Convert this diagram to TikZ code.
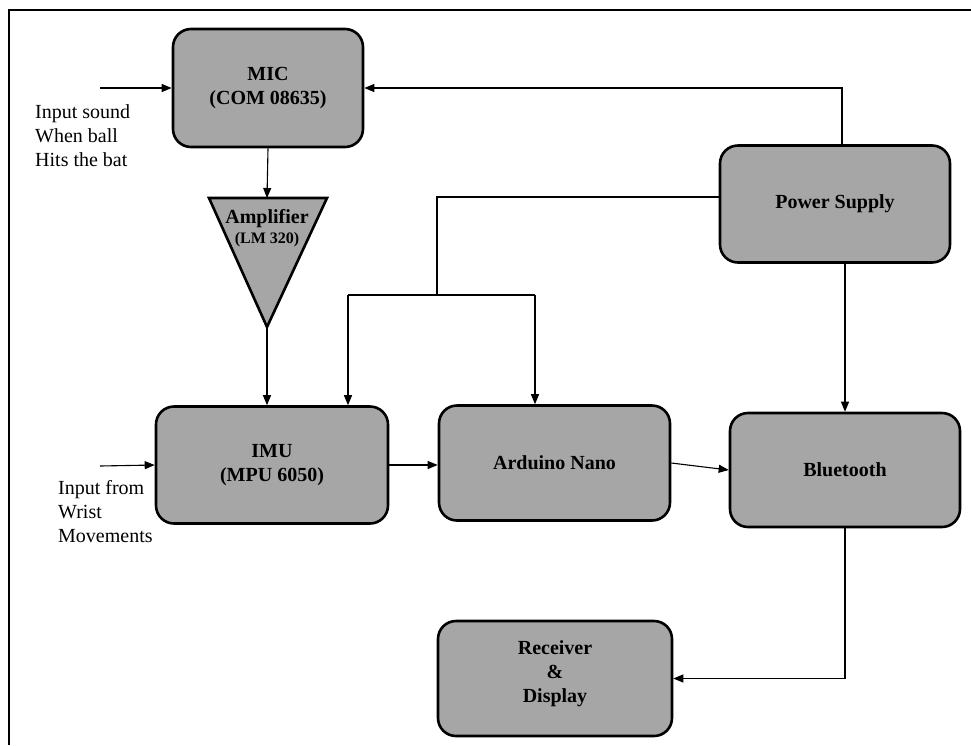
\documentclass[tikz,border=0pt]{standalone}
\usepackage{fontspec}
\setmainfont{Liberation Serif}
\usetikzlibrary{arrows.meta}
\definecolor{boxgray}{HTML}{A6A6A6}
\tikzset{
  blk/.style={draw=black, fill=boxgray, line width=2.6pt, rounded corners=18pt,
    align=center, font=\bfseries\fontsize{20}{24}\selectfont, inner sep=0pt},
  conn/.style={draw=black, line width=1.1pt},
  arr/.style={conn, -{Triangle[length=10pt,width=8pt]}},
  note/.style={align=left, font=\fontsize{20}{24}\selectfont, inner sep=0pt},
}
\begin{document}
\begin{tikzpicture}[x=1pt,y=-1pt]
\useasboundingbox (0,0) rectangle (971,745);
% frame
\draw[line width=2.5pt] (9,745) -- (9,10) -- (971,10);

% blocks
\node[blk, minimum width=190pt, minimum height=118pt] (mic) at (268,88) {MIC\\(COM 08635)};
\node[blk, minimum width=230pt, minimum height=117pt] (ps) at (835,204) {Power Supply};
\node[blk, minimum width=232pt, minimum height=117pt] (imu) at (272,465) {IMU\\(MPU 6050)};
\node[blk, minimum width=231pt, minimum height=115pt] (ard) at (554.5,463) {Arduino Nano};
\node[blk, minimum width=230pt, minimum height=114pt] (bt) at (845,470) {Bluetooth};
\node[blk, minimum width=234pt, minimum height=115pt] (rec) at (555,678.5) {Receiver\\\&\\Display\\[-10pt]};

% amplifier triangle
\coordinate (ampL) at (209,198);
\coordinate (ampR) at (327,198);
\coordinate (ampTop) at (267,198);
\coordinate (ampApex) at (267,327);
\draw[fill=boxgray, line width=2.6pt, line join=miter] (ampL) -- (ampR) -- (ampApex) -- cycle;
\node[font=\bfseries\fontsize{20}{22}\selectfont, inner sep=0pt] (ampT1) at (267,219) {Amplifier};
\node[font=\bfseries\fontsize{16}{18}\selectfont, inner sep=0pt] (ampT2) at (267,240) {(LM 320)};

% external inputs
\coordinate (inS) at (100,88);
\coordinate (inW) at (100,466);
\node[note, anchor=west] (txtS) at (35,136) {Input sound\\When ball\\Hits the bat};
\node[note, anchor=west] (txtW) at (58,512) {Input from\\Wrist\\Movements};
\draw[arr] (inS) -- (mic.west);
\draw[arr] (inW) -- (imu.west);

% signal path
\draw[arr] (mic.south) -- (ampTop);
\draw[arr] (ampApex) -- (ampApex |- imu.north);
\draw[arr] (imu.east) -- (imu.east -| ard.west);
\draw[arr] (ard.east) -- (bt.west);
\draw[arr] (bt.south) |- (rec.east);

% power distribution
\coordinate (pm) at (842,88);
\draw[arr] (ps.north -| pm) -- (pm) -- (mic.east);
\coordinate (j1) at (437,197);
\coordinate (j2) at (437,295);
\coordinate (j3) at (348,295);
\coordinate (j4) at (535,295);
\draw[conn] (ps.west |- j1) -- (j1) -- (j2);
\draw[conn] (j3) -- (j4);
\draw[arr] (j3) -- (j3 |- imu.north);
\draw[arr] (j4) -- (j4 |- ard.north);
\draw[arr] (ps.south -| bt.north) -- (bt.north);
\end{tikzpicture}
\end{document}
